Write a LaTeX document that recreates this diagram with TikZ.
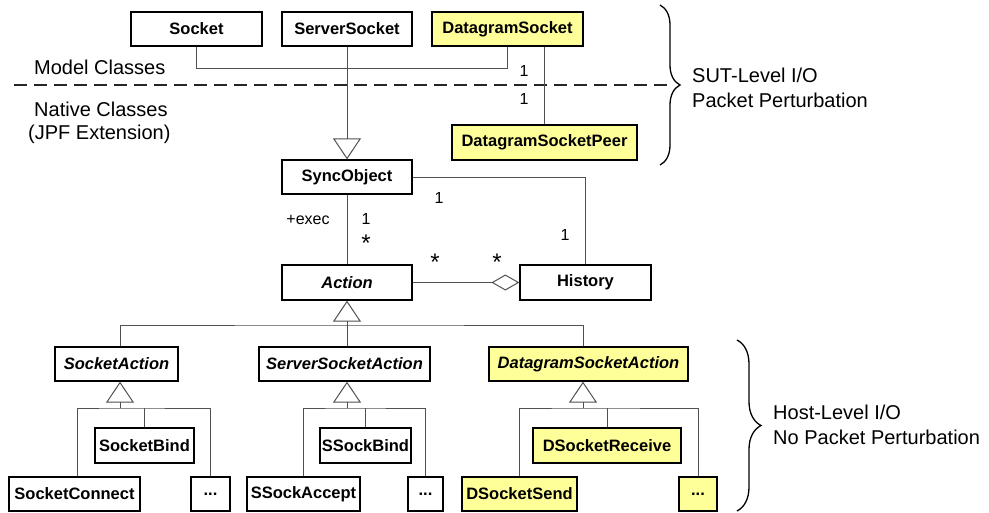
\documentclass[tikz,border=0pt]{standalone}
\usepackage{fontspec}
\setmainfont{Liberation Sans}
\usetikzlibrary{decorations.pathreplacing,arrows.meta}
\definecolor{ylw}{RGB}{255,255,153}
\definecolor{lgray}{RGB}{80,80,80}
\begin{document}
\begin{tikzpicture}[x=1pt,y=-1pt,
  cls/.style={draw=black,line width=1.3pt,fill=white,inner sep=0pt,minimum height=34pt,font=\fontsize{16.5}{19}\selectfont\bfseries},
  ycls/.style={cls,fill=ylw},
  abs/.style={font=\fontsize{16.5}{19}\selectfont\bfseries\itshape},
  conn/.style={draw=lgray,line width=1pt},
  gen/.style={conn,-{Triangle[open,length=21pt,width=28pt,line width=1pt]}},
  agg/.style={conn,-{Diamond[open,length=28pt,width=16pt,line width=1pt]}},
  lbl/.style={font=\fontsize{16}{18}\selectfont,inner sep=0pt},
  star/.style={font=\fontsize{24}{26}\selectfont,inner sep=0pt,yshift=-5pt},
  side/.style={font=\fontsize{20}{24}\selectfont,inner sep=0pt,anchor=west},
  bracel/.style={draw=black,line width=1.3pt,decorate},
]
\useasboundingbox (0,0) rectangle (989,512);

% top classes
\node[cls,minimum width=131pt] (socket) at (196.5,29) {Socket};
\node[cls,minimum width=130pt] (ssock) at (347,29) {ServerSocket};
\node[ycls,minimum width=151pt] (dsock) at (507.5,29) {DatagramSocket};
\node[ycls,minimum width=185pt,minimum height=35pt] (peer) at (544.5,142.5) {DatagramSocketPeer};
\node[cls,minimum width=130pt] (sync) at (347,177) {SyncObject};
\node[cls,abs,minimum width=130pt,minimum height=35pt] (act) at (347,282.5) {Action};
\node[cls,minimum width=131pt,minimum height=35pt] (hist) at (585.5,282.5) {History};

% second level
\node[cls,abs,minimum width=123pt] (sockact) at (116.5,364) {SocketAction};
\node[cls,abs,minimum width=171pt] (ssact) at (344.5,364) {ServerSocketAction};
\node[ycls,abs,minimum width=199pt] (dsact) at (588.5,364) {DatagramSocketAction};

% leaves
\node[cls,minimum width=99pt,minimum height=35pt] (sbind) at (144.5,445.5) {SocketBind};
\node[cls,minimum width=131pt] (sconn) at (74.5,494) {SocketConnect};
\node[cls,minimum width=39pt] (sdots) at (210.5,494) {...};
\node[cls,minimum width=91pt,minimum height=35pt] (ssbind) at (365.5,445.5) {SSockBind};
\node[cls,minimum width=113pt] (ssacc) at (303.5,494) {SSockAccept};
\node[cls,minimum width=35pt] (ssdots) at (425.5,494) {...};
\node[ycls,minimum width=148pt,minimum height=35pt] (drecv) at (607,445.5) {DSocketReceive};
\node[ycls,minimum width=115pt] (dsend) at (519.5,494) {DSocketSend};
\node[ycls,minimum width=38pt] (ddots) at (698,494) {...};

% separator
\draw[draw=black!85,line width=1.4pt,dash pattern=on 13pt off 7pt] (14,85) -- (672,85);

% side texts
\node[side] (mc) at (34,67) {Model Classes};
\node[side] (nc) at (34,109) {Native Classes};
\node[side] (jpf) at (28,134) {(JPF Extension)};
\node[side] (sut1) at (692,75) {SUT-Level I/O};
\node[side] (sut2) at (692,100) {Packet Perturbation};
\node[side] (host1) at (773,412) {Host-Level I/O};
\node[side] (host2) at (773,437) {No Packet Perturbation};

% braces
\draw[bracel,decoration={brace,amplitude=20pt}] (660,5) -- (660,165);
\draw[bracel,decoration={brace,amplitude=24pt}] (737,340) -- (737,511);

% top connectors
\draw[conn] (socket.south) -- ++(0,22) -| (dsock.south);
\draw[conn] (dsock.south -| peer.north) -- (peer.north);
\draw[gen] (ssock.south) -- (sync.north);
\draw[conn] (sync.east) -| (hist.north);
\draw[conn] (sync.south) -- (act.north);
\draw[agg] (act.east) -- (hist.west);

% labels
\node[lbl] (l1) at (524,71) {1};
\node[lbl] (l2) at (524,99) {1};
\node[lbl] (l3) at (439,198) {1};
\node[lbl] (l4) at (565,235) {1};
\node[lbl] (exec) at (308,220) {+exec};
\node[lbl] (l5) at (366,219) {1};
\node[star] (s1) at (366,238) {*};
\node[star] (s2) at (435,257.5) {*};
\node[star] (s3) at (497,257.5) {*};

% generalisation tree from Action
\coordinate (bus) at (347,325);
\draw[gen] (bus) -- (act.south);
\draw[conn] (sockact.north -| 120,0) |- (bus) -| (dsact.north -| 583,0);
\draw[conn] (bus) -- (bus |- ssact.north);

% SocketAction subtree
\coordinate (sbus) at (120,408);
\draw[gen] (sbus) -- (sbus |- sockact.south);
\draw[conn] ([xshift=3pt]sconn.north) |- (sbus) -| (sdots.north);
\draw[conn] (sbind.north) -- (sbind.north |- sbus);

% ServerSocketAction subtree
\coordinate (ssbus) at (347,408);
\draw[gen] (ssbus) -- (ssbus |- ssact.south);
\draw[conn] (ssacc.north) |- (ssbus) -| (ssdots.north);
\draw[conn] (ssbind.north) -- (ssbind.north |- ssbus);

% DatagramSocketAction subtree
\coordinate (dbus) at (583,408);
\draw[gen] (dbus) -- (dbus |- dsact.south);
\draw[conn] (dsend.north) |- (dbus) -| (ddots.north);
\draw[conn] (drecv.north) -- (drecv.north |- dbus);
\end{tikzpicture}
\end{document}
